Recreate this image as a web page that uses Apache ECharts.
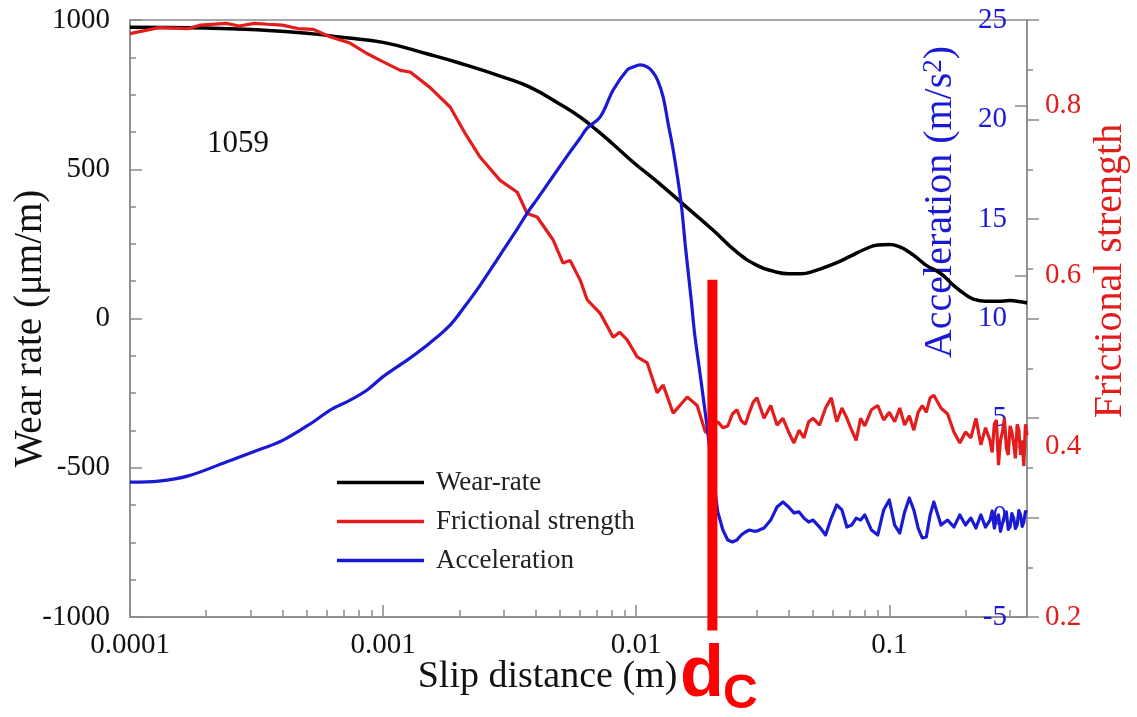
<!DOCTYPE html>
<html>
<head>
<meta charset="utf-8">
<script src="https://cdn.jsdelivr.net/npm/echarts@6/dist/echarts.min.js"></script>
<style>
  html, body { margin: 0; padding: 0; background: #fff; }
  #chart { width: 1137px; height: 717px; }
</style>
</head>
<body>
<div id="chart"></div>
<script>
// ---- data ----
const slipWear = [0.0001, 0.0002, 0.0003, 0.0005, 0.0007, 0.001, 0.0015, 0.002, 0.003, 0.0038, 0.005, 0.006, 0.007, 0.008,
  0.01, 0.011, 0.013, 0.015, 0.02, 0.025, 0.03, 0.035, 0.04, 0.045, 0.05, 0.06, 0.07, 0.08, 0.09, 0.1, 0.11, 0.12,
  0.13, 0.14, 0.16, 0.18, 0.2, 0.215, 0.24, 0.27, 0.3, 0.33, 0.35];
const wearRate = [976, 973, 968, 956, 941, 925, 886, 856, 808, 775, 718, 675, 630, 588,
  515, 487, 436, 390, 298, 222, 178, 158, 150, 150, 158, 182, 208, 232, 246, 248, 240, 222,
  200, 178, 150, 110, 80, 65, 58, 58, 60, 56, 52];

const slipFricHead = [1.0e-4, 1.3e-4, 1.7e-4, 1.9e-4, 2.4e-4, 2.7e-4, 3.1e-4, 3.5e-4, 4.0e-4, 4.6e-4, 5.3e-4, 6.2e-4,
  7.4e-4, 8.6e-4, 9.7e-4, 1.17e-3, 1.28e-3, 1.53e-3, 1.84e-3, 2.1e-3, 2.42e-3, 2.9e-3, 3.39e-3, 3.71e-3, 4.06e-3,
  4.7e-3, 5.14e-3, 5.48e-3, 6.01e-3, 6.4e-3, 7.21e-3, 8.11e-3, 8.6e-3, 9.21e-3, 1.009e-2, 1.105e-2, 1.21e-2,
  1.278e-2, 1.40e-2, 1.591e-2, 1.742e-2, 1.875e-2];
const fricHead = [0.884, 0.891, 0.890, 0.894, 0.896, 0.893, 0.896, 0.895, 0.894, 0.890, 0.889, 0.880,
  0.873, 0.861, 0.853, 0.841, 0.839, 0.821, 0.798, 0.768, 0.739, 0.712, 0.698, 0.673, 0.669,
  0.642, 0.615, 0.618, 0.595, 0.572, 0.556, 0.528, 0.534, 0.525, 0.505, 0.498, 0.463,
  0.472, 0.439, 0.458, 0.448, 0.417];

const slipAccHead = [1e-4, 1.3e-4, 1.7e-4, 2.4e-4, 3.06e-4, 4.03e-4, 5.29e-4, 6.18e-4, 7.41e-4, 8.65e-4, 1.0e-3,
  1.28e-3, 1.53e-3, 1.84e-3, 2.1e-3, 2.42e-3, 2.9e-3, 3.39e-3, 3.71e-3, 4.06e-3, 4.7e-3, 5.48e-3, 6.01e-3, 6.4e-3,
  7.21e-3, 8.11e-3, 9.21e-3, 9.73e-3, 1.036e-2, 1.105e-2, 1.162e-2, 1.215e-2, 1.278e-2, 1.336e-2, 1.40e-2,
  1.50e-2, 1.57e-2, 1.65e-2, 1.70e-2, 1.80e-2, 1.90e-2];
const accHead = [1.78, 1.83, 2.09, 2.79, 3.29, 3.89, 4.80, 5.40, 5.90, 6.41, 7.08,
  8.02, 8.77, 9.67, 10.6, 11.68, 13.19, 14.5, 15.3, 16.0, 17.16, 18.37, 19.07, 19.57,
  20.13, 21.48, 22.49, 22.64, 22.74, 22.64, 22.39, 21.98, 21.13, 19.82, 18.47,
  15.95, 13.44, 10.93, 9.28, 6.95, 4.7];

// noisy plateau after the drop (shared slip positions)
const slipTail = [0.0195, 0.020, 0.021, 0.022, 0.023, 0.024, 0.025, 0.026, 0.027, 0.028, 0.029, 0.030,
  0.032, 0.034, 0.036, 0.038, 0.040, 0.042, 0.044, 0.046, 0.048, 0.050,
  0.053, 0.056, 0.059, 0.062, 0.065, 0.068, 0.071, 0.074, 0.077, 0.080,
  0.085, 0.090, 0.095, 0.100, 0.105, 0.110, 0.115, 0.120, 0.125, 0.130, 0.135, 0.140, 0.145, 0.150,
  0.160, 0.170, 0.180, 0.190, 0.200, 0.210, 0.220, 0.230, 0.240, 0.250,
  0.255, 0.260, 0.265, 0.270, 0.275, 0.280, 0.285, 0.290, 0.295, 0.300,
  0.305, 0.310, 0.315, 0.320, 0.325, 0.330, 0.335, 0.340, 0.345, 0.350];
const fricTail = [0.416, 0.422, 0.429, 0.422, 0.424, 0.438, 0.443, 0.430, 0.426, 0.440, 0.452, 0.457,
  0.433, 0.448, 0.425, 0.433, 0.417, 0.404, 0.419, 0.410, 0.429, 0.433,
  0.425, 0.445, 0.457, 0.429, 0.445, 0.433, 0.419, 0.407, 0.433, 0.424,
  0.443, 0.448, 0.431, 0.440, 0.429, 0.445, 0.425, 0.436, 0.419, 0.440, 0.448, 0.440, 0.457, 0.460,
  0.445, 0.438, 0.417, 0.404, 0.417, 0.410, 0.433, 0.402, 0.422, 0.407,
  0.393, 0.426, 0.431, 0.378, 0.407, 0.417, 0.433, 0.398, 0.390, 0.424,
  0.417, 0.403, 0.386, 0.426, 0.419, 0.390, 0.407, 0.377, 0.426, 0.413];
const accTail = [3.5, 2.39, 0.28, -0.63, -1.13, -1.23, -1.13, -0.88, -0.73, -0.63, -0.68, -0.68,
  -0.53, -0.13, 0.53, 0.78, 0.53, 0.23, 0.28, -0.03, -0.23, -0.13,
  -0.48, -0.88, -0.03, 0.63, 0.38, -0.48, -0.38, -0.03, -0.13, 0.13,
  -0.63, -0.88, 0.38, 0.88, -0.38, -0.78, 0.28, 0.98, 0.38, -0.53, -1.03, -0.98, 0.13, 0.78,
  -0.38, -0.13, -0.48, 0.13, -0.38, -0.03, -0.53, 0.13, -0.48, -0.13,
  0.33, -0.53, -0.1, 0.13, -0.7, -0.63, 0.1, 0.28, -0.6, -0.48,
  0.2, -0.03, -0.55, -0.38, 0.35, 0.13, -0.45, -0.23, 0.3, 0.23];

// critical slip distance marker (d_c), spans on the wear-rate scale
const dcSlip = 0.02;
const dcWear = [130, -1045];

const slipMin = 0.0001, slipMax = 0.35;

// ---- chart ----
const SERIF = 'Liberation Serif';
const GRAY = '#8a8a8a';
const BLUE = '#1a1ad4';
const RED = '#e31c1c';

const zip = (xs, ys) => xs.map((x, i) => [x, ys[i]]);

// minor decade ticks (2..9 x 10^n), placed on a hidden linear axis in log units
const minorTickLogs = [];
for (let d = -4; d <= -1; d++) {
  for (let k = 2; k <= 9; k++) {
    const v = d + Math.log10(k);
    if (v < Math.log10(slipMax)) minorTickLogs.push(v);
  }
}

const accHeadPts = zip(slipAccHead, accHead);
// the jagged part continues from the last point of the smooth rise/drop
const accTailPts = [accHeadPts[accHeadPts.length - 1]].concat(zip(slipTail, accTail));

const chart = echarts.init(document.getElementById('chart'));

const tickLine = { color: GRAY, width: 1.5 };
const legendLine = 'path://M0,0 L87,0 L87,3.5 L0,3.5 Z';

chart.setOption({
  animation: false,
  backgroundColor: '#fff',
  grid: {
    left: 130, right: 110, top: 20, bottom: 100, outerBoundsMode: 'none', containLabel: false,
    show: true, borderColor: GRAY, borderWidth: 1.5
  },
  legend: {
    data: [
      { name: 'Wear-rate', icon: legendLine },
      { name: 'Frictional strength', icon: legendLine },
      { name: 'Acceleration', icon: legendLine }
    ],
    orient: 'vertical',
    left: 332,
    top: 464,
    itemWidth: 87,
    itemHeight: 28,
    itemGap: 12,
    symbolKeepAspect: true,
    textStyle: { fontFamily: SERIF, fontSize: 27, color: '#222', padding: [0, 0, 0, 7] }
  },
  xAxis: [
    {
      type: 'log', logBase: 10, min: slipMin, max: slipMax, position: 'bottom',
      axisLine: { onZero: false, lineStyle: tickLine },
      axisTick: { inside: true, length: 12, lineStyle: tickLine },
      splitLine: { show: false },
      axisLabel: {
        fontFamily: SERIF, fontSize: 29, color: '#111', margin: 14, showMaxLabel: false,
        formatter: v => {
          const e = Math.log10(v);
          return Math.abs(e - Math.round(e)) < 1e-6 ? String(Number(v.toPrecision(1))) : '';
        }
      },
      name: 'Slip distance (m)', nameLocation: 'middle', nameGap: 41, nameMoveOverlap: false,
      nameTextStyle: { fontFamily: SERIF, fontSize: 38, color: '#111', padding: [0, 62, 0, 0] }
    },
    {
      type: 'value', min: -4, max: Math.log10(slipMax), position: 'bottom',
      axisLine: { show: false, onZero: false },
      axisLabel: { show: false },
      splitLine: { show: false },
      axisTick: { inside: true, length: 7, lineStyle: tickLine, customValues: minorTickLogs }
    }
  ],
  yAxis: [
    {
      type: 'value', min: -1000, max: 1000, interval: 500, position: 'left',
      axisLine: { show: true, onZero: false, lineStyle: tickLine },
      axisTick: { inside: true, length: 12, lineStyle: tickLine },
      minorTick: { show: true, splitNumber: 4, length: 6, lineStyle: tickLine },
      splitLine: { show: false },
      axisLabel: { fontFamily: SERIF, fontSize: 29, color: '#111', margin: 20, formatter: v => String(v) },
      name: 'Wear rate (\u03bcm/m)', nameLocation: 'middle', nameGap: 80, nameMoveOverlap: false,
      nameTextStyle: { fontFamily: SERIF, fontSize: 39, color: '#111', padding: [0, 20, 0, 0] }
    },
    {
      type: 'value', min: -5, max: 25, interval: 5, position: 'right',
      axisLine: { show: true, onZero: false, lineStyle: tickLine },
      axisTick: { inside: false, length: 12, lineStyle: tickLine },
      minorTick: { show: true, splitNumber: 2, length: 6, lineStyle: tickLine },
      splitLine: { show: false },
      axisLabel: { inside: true, fontFamily: SERIF, fontSize: 29, color: BLUE, margin: 20 }
    },
    {
      type: 'value', min: 0.2, max: 0.9, interval: 0.2, position: 'right',
      axisLine: { show: false, onZero: false },
      axisTick: { inside: true, length: 12, lineStyle: tickLine },
      splitLine: { show: false },
      axisLabel: { fontFamily: SERIF, fontSize: 29, color: RED, margin: 18, showMaxLabel: false }
    }
  ],
  graphic: [
    { type: 'text', x: 207, y: 128, style: { text: '1059', fontFamily: SERIF, fontSize: 31, fill: '#111', align: 'left', verticalAlign: 'top' } },
    { type: 'text', x: 940, y: 202, rotation: Math.PI / 2,
      style: {
        text: '{a|Acceleration (m/s}{s|2}{a|)}', align: 'center', verticalAlign: 'middle',
        rich: {
          a: { fontFamily: SERIF, fontSize: 40, lineHeight: 40, fill: BLUE, verticalAlign: 'bottom' },
          s: { fontFamily: SERIF, fontSize: 27, lineHeight: 40, fill: BLUE, verticalAlign: 'top' }
        }
      } },
    { type: 'text', x: 1110, y: 271, rotation: Math.PI / 2,
      style: { text: 'Frictional strength', fontFamily: SERIF, fontSize: 40, fill: RED, align: 'center', verticalAlign: 'middle' } },
    { type: 'text', x: 680, y: 640, z: 10,
      style: { text: 'd', fontFamily: 'Liberation Sans', fontWeight: 'bold', fontSize: 72, fill: '#ff0000', align: 'left', verticalAlign: 'top' } },
    { type: 'text', x: 723, y: 671, z: 10,
      style: { text: 'C', fontFamily: 'Liberation Sans', fontWeight: 'bold', fontSize: 48, fill: '#ff0000', align: 'left', verticalAlign: 'top' } }
  ],
  series: [
    {
      name: 'Wear-rate', type: 'line', xAxisIndex: 0, yAxisIndex: 0,
      data: zip(slipWear, wearRate), symbol: 'none', smooth: 0.5, z: 3,
      lineStyle: { color: '#000', width: 3.5 }, itemStyle: { color: '#000' }
    },
    {
      name: 'Frictional strength', type: 'line', xAxisIndex: 0, yAxisIndex: 2,
      data: zip(slipFricHead, fricHead).concat(zip(slipTail, fricTail)), symbol: 'none', z: 3,
      lineStyle: { color: RED, width: 3.2 }, itemStyle: { color: RED }
    },
    {
      name: 'Acceleration', type: 'line', xAxisIndex: 0, yAxisIndex: 1,
      data: accHeadPts, symbol: 'none', smooth: 0.35, z: 3,
      lineStyle: { color: BLUE, width: 3.2 }, itemStyle: { color: BLUE }
    },
    {
      name: 'Acceleration', type: 'line', xAxisIndex: 0, yAxisIndex: 1,
      data: accTailPts, symbol: 'none', z: 3,
      lineStyle: { color: BLUE, width: 3.2, join: 'round' }, itemStyle: { color: BLUE }
    },
    {
      name: 'dc', type: 'line', xAxisIndex: 0, yAxisIndex: 0, silent: true, clip: false,
      data: dcWear.map(w => [dcSlip, w]), symbol: 'none', z: 6,
      lineStyle: { color: '#ff0000', width: 10, cap: 'butt' }
    }
  ]
});
</script>
</body>
</html>
